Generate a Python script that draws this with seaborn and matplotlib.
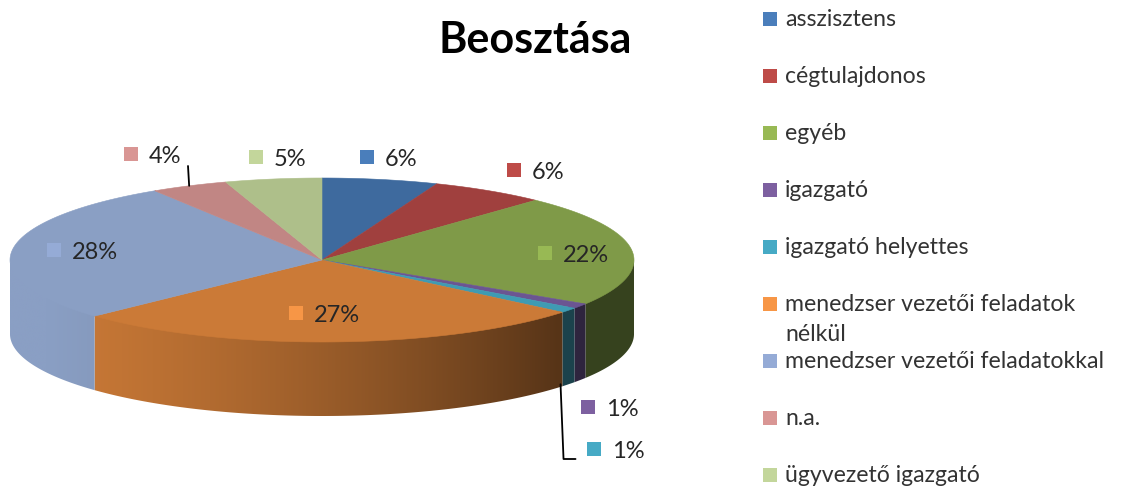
import textwrap

import numpy as np
import pandas as pd
import seaborn as sns
import matplotlib
matplotlib.use('Agg')
import matplotlib.pyplot as plt
from matplotlib.patches import Polygon

# data
categories = ['asszisztens', 'cégtulajdonos', 'egyéb', 'igazgató', 'igazgató helyettes',
              'menedzser vezetői feladatok nélkül', 'menedzser vezetői feladatokkal',
              'n.a.', 'ügyvezető igazgató']
shares = [6, 6, 22, 1, 1, 27, 28, 4, 5]

# colours: legend swatches and (darker) 3D top faces
legend_colors = ['#4a7ebb', '#be4b48', '#98b954', '#7d60a0', '#46aac5',
                 '#f79646', '#95abd6', '#d99694', '#c3d69b']
top_colors = ['#3e6a9e', '#a0403e', '#7f9a48', '#6b5592', '#3f9bb3',
              '#cb7a37', '#8a9fc4', '#c18684', '#aebf8a']

# where Excel put the data labels (marker centre, pixels)
label_pos = [(367, 157), (514, 170), (545, 253), (588, 407), (594, 449),
             (296, 313), (54, 250), (131, 154), (256, 157)]

sns.set_theme(style='white')
plt.rcParams['font.family'] = ['Lato', 'DejaVu Sans']

# pie geometry (pixels)
CX, CY, RA, RB, DEPTH = 322, 260, 312, 82, 74

df = pd.DataFrame({'cat': categories, 'share': shares})
df['end'] = df['share'].cumsum()
df['start'] = df['end'] - df['share']
# angles in degrees, start at 12 o'clock, clockwise
df['t0'] = 90 - 3.6 * df['start']
df['t1'] = 90 - 3.6 * df['end']
df['tm'] = (df['t0'] + df['t1']) / 2


def ell(t, dy=0.0):
    t = np.radians(t)
    return CX + RA * np.cos(t), CY - RB * np.sin(t) + dy


def shade(color, c):
    f = np.clip(0.76 - 0.36 * c - 0.1 * c ** 2, 0.43, 1.0)
    rgb = np.array(matplotlib.colors.to_rgb(color))
    return f[:, None] * rgb[None, :]


fig = plt.figure(figsize=(11.22, 4.9), dpi=100)
ax = fig.add_axes([0, 0, 1, 1])

# side walls (front half only: angles -180..0), shaded with a horizontal gradient
for i, row in df.iterrows():
    lo = max(row['t1'], -180)
    hi = min(row['t0'], 0)
    if hi <= lo:
        continue
    ts = np.linspace(lo, hi, 200)
    xs, ys = ell(ts)
    # start the wall a bit under the top face so no seam shows
    pts = list(zip(xs, ys - 3)) + list(zip(xs[::-1], ys[::-1] + DEPTH))
    wall = Polygon(pts, closed=True, facecolor='none', edgecolor='none')
    ax.add_patch(wall)
    x0, x1 = xs.min() - 1, xs.max() + 1
    gx = np.linspace(x0, x1, 300)
    grad = shade(top_colors[i], (gx - CX) / RA)[None, :, :]
    im = ax.imshow(grad, extent=[x0, x1, ys.max() + DEPTH + 1, ys.min() - 4],
                   aspect='auto', interpolation='bilinear')
    im.set_clip_path(wall)

# top faces
for i, row in df.iterrows():
    ts = np.linspace(row['t0'], row['t1'], 120)
    xs, ys = ell(ts)
    pts = [(CX, CY)] + list(zip(xs, ys))
    ax.add_patch(Polygon(pts, closed=True, facecolor=top_colors[i],
                         edgecolor=top_colors[i], lw=0.4, zorder=2))

# leader lines for n.a. and igazgató helyettes
ex, ey = ell(df.loc[7, 'tm'])
ax.plot([188, ex], [166, ey], color='black', lw=1.3, zorder=3)
wx, wy = ell(df.loc[4, 'tm'], DEPTH)
ax.plot([wx - 8, wx - 5, wx + 7], [wy, 459, 459], color='black', lw=1.3, zorder=3)

# data labels
for i, row in df.iterrows():
    lx, ly = label_pos[i]
    ax.scatter([lx], [ly], marker='s', s=88, color=legend_colors[i], linewidths=0, zorder=5)
    ax.text(lx + 18, ly + 9, f"{row['share']}%", fontsize=17, color='#262626',
            ha='left', va='baseline', zorder=6)

# legend
for i, name in enumerate(categories):
    y = 19 + 57 * i
    ax.scatter([770], [y], marker='s', s=88, color=legend_colors[i], linewidths=0)
    for j, line in enumerate(textwrap.fill(name, 30).split('\n')):
        ax.text(785, y + 7 + 30 * j, line, fontsize=16.6, color='#333333',
                ha='left', va='baseline')

ax.text(535, 53, 'Beosztása', fontsize=31, fontweight='bold', color='black',
        ha='center', va='baseline')

ax.set_xlim(0, 1122)
ax.set_ylim(490, 0)
ax.axis('off')

fig.savefig('out.png', dpi=100)
